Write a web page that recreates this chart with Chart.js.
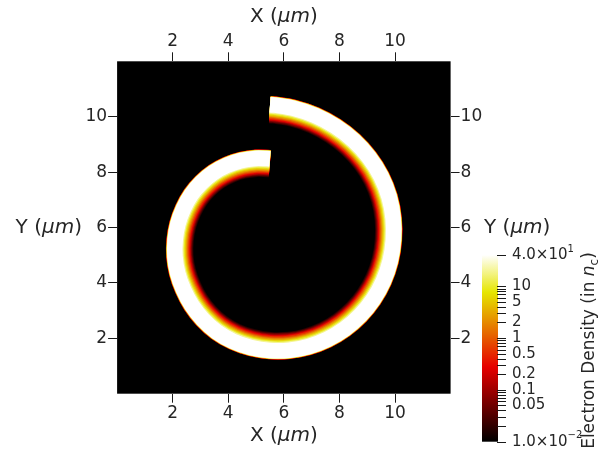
<!DOCTYPE html>
<html>
<head>
<meta charset="utf-8">
<script src="https://cdn.jsdelivr.net/npm/chart.js@4.4.1/dist/chart.umd.min.js"></script>
<style>
  html, body { margin: 0; padding: 0; background: #fff; }
  canvas { display: block; }
</style>
</head>
<body>
<canvas id="chart" width="609" height="450"></canvas>
<script>
// Spiral target wall: outer-edge radius (µm) at each turn angle (degrees, clockwise from the top)
const turnAngleDeg  = [0, 2, 10, 20, 30, 40, 50, 60, 70, 80, 90, 100, 110, 120, 130, 140, 150, 160, 170, 180,
                       190, 200, 210, 220, 230, 240, 250, 260, 270, 280, 290, 300, 310, 320, 330, 340, 350, 358, 360];
const outerRadiusUm = [5.16, 5.15, 5.11, 5.06, 5.01, 4.97, 4.93, 4.89, 4.84, 4.78, 4.72, 4.67, 4.62, 4.57, 4.52, 4.47, 4.42, 4.37, 4.32, 4.27,
                       4.22, 4.17, 4.11, 4.03, 3.95, 3.87, 3.81, 3.75, 3.69, 3.64, 3.59, 3.55, 3.50, 3.45, 3.39, 3.33, 3.27, 3.22, 3.21];
// Spiral centre (µm)
const centreXUm = 5.5;
const centreYUm = 5.55;

// Density across the wall: each level is exceeded between an outer and an inner depth (µm from the outer edge)
const levelDensity      = [40,    20,     10,    5,      2.5,   1.2,   0.6,   0.3,   0.15,  0.07,  0.035, 0.018];
const levelInnerDepthUm = [0.56,  0.60,   0.64,  0.68,   0.72,  0.76,  0.80,  0.83,  0.86,  0.89,  0.92,  0.95];
const levelOuterDepthUm = [0.0, -0.006, -0.010, -0.014, -0.018, -0.022, -0.026, -0.030, -0.033, -0.036, -0.038, -0.040];

// Axes
const axisMin = 0;
const axisMax = 12;
const axisTicks = [2, 4, 6, 8, 10];

// Colour bar (log scale)
const densityMin = 0.01;
const densityMax = 40;
const colorbarLabelValues = [40, 10, 5, 2, 1, 0.5, 0.2, 0.1, 0.05, 0.01];
const colorbarLabels = ['4.0×10^1', '10', '5', '2', '1', '0.5', '0.2', '0.1', '0.05', '1.0×10^-2'];
const colorbarTickValues = [40, 10, 9, 8, 7, 6, 5, 4, 3, 2, 1, 0.9, 0.8, 0.7, 0.6, 0.5, 0.4, 0.3, 0.2,
                            0.1, 0.09, 0.08, 0.07, 0.06, 0.05, 0.04, 0.03, 0.02, 0.01];

const FONT = "'DejaVu Sans', sans-serif";
const TEXT = '#262626';

// Black-Body Radiation colour map
const blackBodyStops = [[0, 0, 0, 0], [0.4, 230, 0, 0], [0.8, 230, 230, 0], [1, 255, 255, 255]];
function logFraction(n) {
  const lo = Math.log10(densityMin), hi = Math.log10(densityMax);
  return Math.min(1, Math.max(0, (Math.log10(n) - lo) / (hi - lo)));
}
function mapColor(t) {
  for (let i = 1; i < blackBodyStops.length; i++) {
    const a = blackBodyStops[i - 1], b = blackBodyStops[i];
    if (t <= b[0]) {
      const f = (t - a[0]) / (b[0] - a[0]);
      const c = [1, 2, 3].map(j => Math.round(a[j] + (b[j] - a[j]) * f));
      return `rgb(${c[0]},${c[1]},${c[2]})`;
    }
  }
  return 'rgb(255,255,255)';
}
const densityColor = n => mapColor(logFraction(n));

function umToPx(chart, w) {
  const s = chart.scales && chart.scales.x;
  if (!s) return 1;
  return Math.abs(s.getPixelForValue(w) - s.getPixelForValue(0));
}

// One stroked spiral per density level; the densest is listed first so it is drawn on top
const datasets = levelDensity.map((n, k) => {
  const midDepth = (levelInnerDepthUm[k] + levelOuterDepthUm[k]) / 2;
  const thickness = levelInnerDepthUm[k] - levelOuterDepthUm[k];
  return {
    label: 'n = ' + n,
    data: turnAngleDeg.map((a, i) => {
      const r = outerRadiusUm[i] - midDepth;
      const rad = a * Math.PI / 180;
      return { x: centreXUm + r * Math.sin(rad), y: centreYUm + r * Math.cos(rad) };
    }),
    showLine: true,
    pointRadius: 0,
    pointHoverRadius: 0,
    borderColor: densityColor(n),
    borderWidth: ctx => umToPx(ctx.chart, thickness),
    borderCapStyle: 'butt',
    borderJoinStyle: 'round',
    tension: 0.33,
    fill: false,
    xAxisID: 'x',
    yAxisID: 'y'
  };
});

function axis(position, size) {
  const horizontal = position === 'top' || position === 'bottom';
  return {
    type: 'linear',
    position,
    min: axisMin,
    max: axisMax,
    afterBuildTicks: s => { s.ticks = axisTicks.map(v => ({ value: v })); },
    afterFit: s => { if (horizontal) s.height = size; else s.width = size; },
    ticks: { font: { family: FONT, size: 17 }, color: TEXT, padding: 1, maxRotation: 0, autoSkip: false },
    grid: { drawOnChartArea: false, drawTicks: true, tickLength: 9, color: '#1a1a1a', lineWidth: 1 },
    border: { display: false }
  };
}

function drawRich(ctx, parts, x, y, align) {
  let total = 0;
  parts.forEach(p => { ctx.font = p.font; p.w = ctx.measureText(p.t).width; total += p.w; });
  let cx = align === 'center' ? x - total / 2 : align === 'right' ? x - total : x;
  parts.forEach(p => {
    ctx.font = p.font;
    ctx.fillText(p.t, cx, y + (p.dy || 0));
    cx += p.w;
  });
}

const titleSize = 20;
const upright = `${titleSize}px ${FONT}`;
const slanted = `italic ${titleSize}px ${FONT}`;
const titleParts = axisName => [
  { t: axisName + ' (', font: upright },
  { t: 'μm', font: slanted },
  { t: ')', font: upright }
];

const decorations = {
  id: 'decorations',
  beforeDatasetsDraw(chart) {
    const { ctx, chartArea: a } = chart;
    ctx.save();
    ctx.fillStyle = densityColor(densityMin);
    ctx.fillRect(a.left, a.top, a.right - a.left, a.bottom - a.top);
    ctx.restore();
  },
  afterDraw(chart) {
    const { ctx, chartArea: a } = chart;
    const ys = chart.scales.y;
    const midX = (a.left + a.right) / 2;
    const y6 = ys.getPixelForValue(6);
    ctx.save();
    ctx.fillStyle = TEXT;
    ctx.textBaseline = 'middle';
    drawRich(ctx, titleParts('X'), midX, 17, 'center');
    drawRich(ctx, titleParts('X'), midX, 436, 'center');
    drawRich(ctx, titleParts('Y'), 82, y6, 'right');
    drawRich(ctx, titleParts('Y'), 484, y6, 'left');

    // Colour bar
    const barL = 482, barR = 498, barTop = 255, barBot = 441.7;
    const yOf = v => barBot - logFraction(v) * (barBot - barTop);
    const grad = ctx.createLinearGradient(0, barBot, 0, barTop);
    for (let i = 0; i <= 40; i++) grad.addColorStop(i / 40, mapColor(i / 40));
    ctx.fillStyle = grad;
    ctx.fillRect(barL, barTop, barR - barL, barBot - barTop);

    ctx.strokeStyle = '#1a1a1a';
    ctx.lineWidth = 1;
    colorbarTickValues.forEach(v => {
      const y = Math.round(yOf(v)) + 0.5;
      ctx.beginPath();
      ctx.moveTo(barR - 1, y);
      ctx.lineTo(barR + 8, y);
      ctx.stroke();
    });

    ctx.fillStyle = TEXT;
    colorbarLabelValues.forEach((v, i) => {
      const [base, sup] = colorbarLabels[i].split('^');
      const parts = [{ t: base, font: `15px ${FONT}` }];
      if (sup) parts.push({ t: sup.replace('-', '−'), font: `10px ${FONT}`, dy: -6 });
      drawRich(ctx, parts, 512, yOf(v), 'left');
    });

    // Colour bar title
    ctx.translate(594, 350.5);
    ctx.rotate(-Math.PI / 2);
    ctx.textBaseline = 'alphabetic';
    drawRich(ctx, [
      { t: 'Electron Density (in ', font: `17px ${FONT}` },
      { t: 'n', font: `italic 17px ${FONT}` },
      { t: 'c', font: `12px ${FONT}`, dy: 4 },
      { t: ')', font: `17px ${FONT}` }
    ], 0, 0, 'center');
    ctx.restore();
  }
};

new Chart(document.getElementById('chart'), {
  type: 'scatter',
  data: { datasets },
  options: {
    responsive: false,
    animation: false,
    events: [],
    layout: { padding: 0 },
    plugins: { legend: { display: false }, tooltip: { enabled: false }, title: { display: false } },
    scales: {
      x: axis('bottom', 56.3),
      x2: axis('top', 61.3),
      y: axis('left', 117.1),
      y2: axis('right', 158.4)
    }
  },
  plugins: [decorations]
});
</script>
</body>
</html>
